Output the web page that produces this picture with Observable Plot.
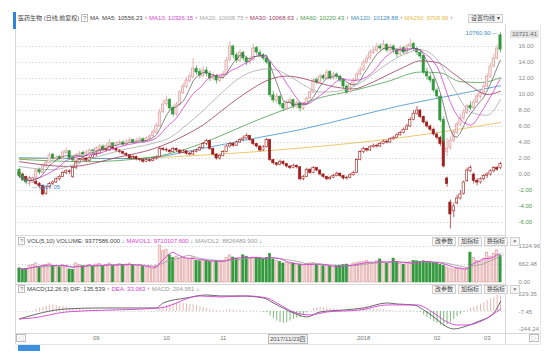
<!DOCTYPE html>
<html><head><meta charset="utf-8">
<script src="https://cdn.jsdelivr.net/npm/d3@7"></script>
<script src="https://cdn.jsdelivr.net/npm/@observablehq/plot@0.6"></script>
<style>
html,body{margin:0;padding:0;background:#fff;}
#wrap{position:relative;width:550px;height:354px;overflow:hidden;font-family:"Liberation Sans","Noto Sans CJK SC",sans-serif;}
.t{position:absolute;font-size:6px;line-height:8px;white-space:nowrap;color:#444;}
.btn{display:inline-block;border:1px solid #cfcfcf;background:#f6f6f6;padding:0 2px;margin-left:2px;font-size:6px;line-height:7px;color:#444;}
.q{display:inline-block;border:1px solid #bbb;padding:0 1px;line-height:6px;color:#777;}
.ln{position:absolute;background:#d8d8d8;}
</style></head><body><div id="wrap"></div><script>
// ---------- data (percent change vs first day) ----------
const idxOHLC = [
[0.6,-0.25,0.8,-0.5],[-0.2,-0.75,0.0,-0.9],[-0.7,-1.0,-0.5,-1.3],[-1.2,-1.1,-0.8,-1.5],[-1.0,-0.5,-0.3,-1.1],
[-0.5,0.5,0.7,-0.6],[0.6,0.25,0.8,0.0],[0.2,1.1,1.3,0.1],[1.0,1.5,1.7,0.8],[1.4,2.4,2.7,1.3],
[2.5,2.0,2.6,1.8],[1.9,2.1,2.4,1.7],[2.2,2.0,2.4,1.8],[1.9,2.75,3.0,1.8],[2.7,2.9,3.3,2.5],
[2.9,2.0,3.0,1.8],[2.1,1.75,2.3,1.5],[1.7,2.4,2.6,1.6],[2.4,2.6,2.9,2.2],[2.7,2.5,2.9,2.3],
[2.5,2.75,3.0,2.3],[2.7,3.0,3.2,2.6],[3.0,2.9,3.2,2.6],[2.9,3.25,3.5,2.7],[3.2,3.5,3.8,3.0],
[3.5,3.25,3.7,3.0],[3.2,3.6,3.9,3.1],[3.6,3.9,4.4,3.5],[3.9,3.6,4.0,3.4],[3.6,3.9,4.1,3.4],
[3.9,4.0,4.3,3.7],[4.0,3.75,4.2,3.5],[3.7,4.1,4.4,3.6],[4.1,4.25,4.6,3.9],[4.3,4.0,4.4,3.8],
[4.0,4.25,4.5,3.9],[4.2,4.4,4.7,4.1],[4.4,4.1,4.6,3.9],[4.1,4.5,4.7,4.0],[4.5,4.75,5.0,4.3],
[4.8,5.25,5.6,4.6],[5.2,6.1,6.4,5.1],[6.0,7.75,8.2,5.9],[7.8,8.75,9.3,7.6],[8.8,9.25,9.8,8.5],
[9.3,8.25,9.5,8.0],[8.3,7.5,8.6,7.2],[7.5,8.75,9.0,7.3],[8.7,10.25,10.5,8.6],[10.2,11.0,11.4,10.0],
[10.9,11.75,12.1,10.7],[11.7,12.25,12.7,11.4],[12.2,13.25,14.5,12.0],[13.2,12.75,13.6,12.4],[12.8,12.4,13.2,12.0],
[12.3,13.0,13.5,12.1],[13.0,12.6,13.4,12.2],[12.6,12.0,12.9,11.6],[12.0,12.25,12.7,11.7],[12.3,11.75,12.5,11.3],
[11.7,12.1,12.4,11.5],[12.1,12.5,12.9,11.9],[12.5,14.25,14.6,12.4],[14.3,16.0,16.6,14.1],[16.0,14.9,16.2,14.5],
[14.9,14.25,15.2,13.9],[14.2,15.25,15.6,14.0],[15.2,14.5,15.4,14.2],[14.5,14.0,14.8,13.6],[14.0,14.25,14.7,13.7],
[14.3,15.75,16.3,14.1],[15.8,15.25,16.0,14.9],[15.2,14.9,15.5,14.6],[14.9,14.5,15.1,14.2],[14.5,14.0,14.8,13.7],
[14.0,9.9,14.2,9.6],[9.9,9.25,10.4,8.9],[9.2,9.75,10.1,8.8],[9.7,8.75,9.9,8.4],[8.8,8.25,9.0,7.9],
[8.2,9.0,9.3,8.0],[9.0,9.25,9.6,8.7],[9.3,8.5,9.4,8.2],[8.5,8.9,9.2,8.2],[8.9,8.25,9.0,7.8],
[8.2,8.75,9.0,8.0],[8.7,9.5,9.7,8.6],[9.5,10.25,10.5,9.3],[10.2,11.75,12.0,10.1],[11.8,11.5,12.1,11.2],
[11.5,12.25,12.6,11.3],[12.3,12.0,12.5,11.7],[12.0,12.75,13.1,11.8],[12.8,12.0,13.0,11.8],[12.0,12.5,12.8,11.8],
[12.5,12.25,12.7,11.9],[12.2,11.75,12.4,11.5],[11.8,11.0,11.9,10.7],[11.0,10.25,11.2,10.0],[10.3,11.25,11.5,10.1],
[11.2,11.75,12.0,11.0],[11.7,12.5,12.8,11.6],[12.5,13.0,13.4,12.3],[13.0,14.0,14.3,12.9],[14.0,14.5,14.9,13.8],
[14.5,15.25,15.6,14.3],[15.2,15.5,15.9,15.0],[15.5,16.0,16.4,15.2],[16.0,15.75,16.3,15.4],[15.7,16.25,16.8,15.5],
[16.2,15.5,16.4,15.2],[15.5,16.0,16.3,15.2],[16.0,15.5,16.2,15.1],[15.5,15.0,15.7,14.6],[15.0,15.75,16.1,14.8],
[15.8,15.25,16.0,15.0],[15.2,16.0,16.3,15.0],[16.0,16.25,16.9,15.8],[16.3,15.75,16.5,15.4],[15.7,15.25,15.9,14.9],
[15.2,14.75,15.4,14.4],[14.8,12.75,14.9,12.5],[12.8,12.25,13.3,11.8],[12.2,11.75,12.6,11.4],[11.8,10.5,12.0,10.2],
[10.5,9.75,10.8,9.4],[9.7,6.75,9.9,6.5],[6.8,4.25,7.2,3.9],[2.8,3.25,4.5,2.2],[3.3,4.25,4.7,3.0],
[4.2,5.25,5.6,4.0],[5.2,6.25,6.6,5.0],[6.2,7.0,7.5,6.0],[7.0,7.75,8.2,6.8],[7.7,8.5,8.8,7.5],
[8.6,8.25,9.1,8.0],[8.3,9.0,9.4,8.1],[9.0,9.75,10.1,8.8],[9.7,10.25,10.6,9.4],[10.2,11.0,11.4,10.0],
[11.0,12.25,12.6,10.8],[12.2,13.5,13.9,12.0],[13.5,14.5,15.0,13.3],[14.5,15.75,16.2,14.3],[17.4,15.6,17.7,15.2]
];
const stkOHLC = [
[0.2,0.0,0.4,-0.3],[0.0,-0.3,0.2,-0.5],[-0.3,-0.8,-0.2,-1.0],[-0.8,-0.5,-0.3,-1.0],[-0.5,-0.9,-0.4,-1.1],
[-0.9,-1.2,-0.7,-1.4],[-1.2,-1.5,-1.0,-1.7],[-1.4,-2.5,-1.3,-2.7],[-2.4,-1.6,-1.5,-2.6],[-1.6,-1.2,-1.0,-1.8],
[-1.2,-1.0,-0.8,-1.4],[-1.0,-0.6,-0.4,-1.1],[-0.6,-0.3,-0.1,-0.8],[-0.3,0.2,0.4,-0.4],[0.2,0.4,0.6,0.0],
[0.4,0.3,0.6,0.0],[-0.3,0.8,1.0,-0.5],[0.8,1.5,1.7,0.6],[1.5,1.8,2.0,1.3],[1.8,2.0,2.2,1.6],
[2.0,1.7,2.1,1.5],[1.7,2.1,2.3,1.6],[2.1,2.4,2.6,2.0],[2.4,2.6,2.8,2.2],[2.6,3.0,3.2,2.5],
[3.0,3.2,3.5,2.9],[3.2,3.0,3.3,2.8],[3.0,3.4,3.6,2.9],[3.4,3.2,3.5,3.0],[3.2,3.0,3.3,2.8],
[3.0,2.8,3.1,2.6],[2.8,2.6,2.9,2.4],[2.6,2.4,2.7,2.2],[2.4,2.0,2.5,1.9],[2.0,2.2,2.4,1.9],
[2.2,1.9,2.3,1.7],[1.9,1.8,2.0,1.6],[1.8,1.6,1.9,1.4],[1.6,1.8,2.0,1.5],[1.8,1.7,1.9,1.5],
[1.7,1.9,2.1,1.6],[1.9,2.1,2.3,1.8],[2.2,3.2,3.5,2.1],[3.2,3.1,3.4,2.9],[3.1,3.0,3.3,2.8],
[3.0,2.8,3.1,2.6],[2.8,3.2,3.4,2.7],[3.2,3.0,3.3,2.8],[3.0,2.7,3.1,2.5],[2.7,2.9,3.1,2.6],
[2.9,2.6,3.0,2.4],[2.6,2.5,2.8,2.3],[2.5,2.8,3.0,2.4],[2.8,3.0,3.2,2.7],[3.0,3.3,3.5,2.9],
[3.3,3.8,4.0,3.2],[3.8,4.2,4.4,3.6],[4.2,3.2,4.3,3.0],[3.2,2.5,3.3,2.3],[2.5,2.0,2.6,1.8],
[2.0,2.3,2.5,1.8],[2.3,2.8,3.0,2.2],[2.8,3.5,3.7,2.7],[3.5,3.8,4.0,3.3],[3.8,3.6,3.9,3.4],
[3.6,4.0,4.2,3.5],[4.0,4.3,4.5,3.9],[4.3,4.5,4.8,4.2],[4.5,4.8,5.1,4.4],[4.8,4.3,4.9,4.1],
[4.3,3.8,4.4,3.6],[3.8,3.5,3.9,3.3],[3.5,3.0,3.6,2.8],[3.0,3.4,3.6,2.9],[3.4,4.3,4.5,3.3],
[4.3,1.8,4.4,1.6],[1.8,1.4,1.9,1.2],[1.4,1.2,1.5,1.0],[1.2,1.6,1.8,1.1],[1.6,1.3,1.7,1.1],
[1.3,1.0,1.4,0.8],[1.0,0.8,1.1,0.6],[0.8,1.1,1.3,0.7],[1.1,0.9,1.2,0.7],[0.9,-0.6,1.0,-0.8],
[-0.6,-0.3,-0.1,-0.8],[-0.3,0.6,0.8,-0.4],[0.6,0.2,0.7,0.0],[0.2,0.8,1.0,0.1],[0.8,0.5,0.9,0.3],
[0.5,0.0,0.6,-0.2],[0.0,-0.3,0.1,-0.5],[-0.3,-0.6,-0.2,-0.8],[-0.6,-0.4,-0.2,-0.7],[-0.4,-0.2,0.0,-0.5],
[-0.2,0.1,0.3,-0.3],[0.1,-0.2,0.2,-0.4],[-0.2,-0.5,-0.1,-0.7],[-0.5,-0.4,-0.2,-0.7],[-0.4,-0.1,0.1,-0.5],
[-0.1,0.2,0.4,-0.2],[0.2,1.8,2.0,0.1],[1.8,2.8,3.0,1.7],[2.8,3.2,3.4,2.6],[3.2,3.0,3.3,2.8],
[3.0,3.4,3.6,2.9],[3.4,3.6,3.8,3.3],[3.6,3.5,3.8,3.3],[3.5,3.8,4.0,3.4],[3.8,4.1,4.3,3.7],
[4.1,4.0,4.3,3.8],[4.0,4.4,4.6,3.9],[4.4,4.6,4.8,4.3],[4.6,4.9,5.1,4.5],[4.9,5.2,5.4,4.8],
[5.2,5.6,5.8,5.1],[5.6,6.0,6.3,5.5],[6.0,6.8,7.1,5.9],[6.8,7.6,8.0,6.7],[7.6,8.0,8.5,7.4],
[8.0,7.2,8.1,7.0],[7.2,6.5,7.3,6.3],[6.5,6.0,6.7,5.8],[6.0,5.6,6.2,5.4],[5.6,5.0,5.8,4.8],
[5.0,4.6,5.2,4.3],[4.6,3.8,4.8,3.5],[4.2,1.0,4.4,0.8],[-0.5,-1.2,-0.3,-1.6],[-3.5,-5.0,-3.2,-6.8],
[-4.6,-4.0,-3.6,-5.4],[-3.6,-3.0,-2.6,-3.8],[-3.0,-2.5,-2.0,-3.2],[-2.4,-1.0,-0.8,-2.6],[-0.8,0.5,0.8,-1.0],
[0.4,0.8,1.1,0.2],[0.0,-0.8,0.2,-1.2],[-0.8,-1.0,-0.5,-1.4],[-1.0,-0.6,-0.4,-1.2],[-0.6,-0.2,0.0,-0.8],
[-0.2,0.0,0.2,-0.5],[0.0,0.4,0.6,-0.2],[0.4,0.8,1.0,0.2],[0.8,0.6,1.0,0.4],[0.8,1.3,1.5,0.6]
];
const volume = [
520,480,500,610,640,700,560,620,650,700,600,
580,560,640,620,480,470,700,650,600,620,640,590,
660,680,600,640,700,620,650,680,640,660,700,620,600,640,570,560,540,500,620,1360,1150,
1200,1000,900,950,880,900,870,850,920,800,780,820,790,760,800,780,760,
800,900,1000,920,880,850,1000,950,880,920,900,880,860,900,
1050,850,800,760,700,720,680,700,660,640,620,680,700,720,660,650,
600,620,580,560,600,620,640,660,620,700,720,740,
760,800,720,700,780,850,740,700,720,880,760,680,660,700,740,800,780,760,
780,760,740,720,700,650,620,560,520,480,500,520,480,500,
1100,900,800,760,850,1100,950,1050,1180,980
];
const macdHist = [
0,0,0,0,0, 30,45,60,75,85,90,80,70,65,55, 40,30,25,30,25,20,20,15,15,10,
5,0,5,10,5,0,-5,0,5,5,0,-5,0,5,0,-5,10,
30,60,80,90,100,110,115,110,100,95,90,80,65,50,40,
30,20,15,10,10,20,30, 20,10,10,5,0,5,10,5,0,-10,-15,
-60,-100,-130,-150,-160,-150,-130,-110,-90,-80,
-50,-20,10,40,50,55,50,45,40,30,25,15,
5,0,10,20,30,35,40,45,40,35,30,25,
20,15,10,5,0,5,0,5,10,5,-5,-15,
-50,-80,-110,-140,-160,-190,-200,-180,-150,-110,
-70,-40,-10, 20,40,60,80,100,120,150,170,190,220,205
];
const difPts = [[0,-101],[14,34],[24,47],[41,47],[43,115],[50,183],[56,223],[60,210],[66,210],[73,183],[76,115],[82,-20],[86,-74],[90,-7],[97,20],[103,47],[110,115],[113,101],[118,88],[121,20],[124,-74],[128,-210],[130,-237],[133,-210],[137,-142],[142,-20],[144,135.5]];
const deaPts = [[0,-101],[4,-88],[14,-7],[42,47],[54,210],[60,196],[68,210],[74,183],[77,115],[82,-7],[87,-47],[92,-7],[102,20],[110,88],[119,88],[124,-20],[128,-142],[131,-183],[134,-183],[139,-115],[144,33]];
const ma20Pts = [[0,1.0],[10,0.6],[20,1.8],[30,3.0],[40,3.9],[45,4.6],[50,6.2],[55,8.0],[60,10.0],[65,11.8],[70,12.9],[75,13.2],[80,12.5],[85,11.2],[90,10.3],[95,10.4],[100,11.0],[105,12.3],[110,13.8],[115,15.0],[120,15.6],[125,14.4],[130,10.8],[135,7.8],[140,7.4],[144,9.4]];
const ma30Pts = [[0,1.6],[15,1.0],[30,2.2],[40,3.2],[50,5.0],[55,6.2],[60,7.8],[65,9.4],[70,10.8],[75,11.9],[80,12.3],[85,12.0],[90,11.4],[95,10.9],[100,10.7],[105,11.4],[110,12.4],[115,13.4],[120,14.2],[125,14.0],[130,12.6],[135,11.1],[140,10.0],[144,10.4]];
const ma60Pts = [[0,1.9],[20,1.6],[40,2.2],[50,3.2],[60,4.8],[70,6.6],[80,8.2],[90,9.6],[100,10.5],[110,11.6],[120,12.8],[126,12.7],[132,11.6],[138,11.5],[144,12.1]];
const ma120Pts = [[0,2.1],[20,2.0],[36,2.0],[54,3.2],[70,4.5],[84,5.6],[100,7.2],[114,8.6],[126,9.6],[144,11.1]];
const ma250Pts = [[0,2.0],[30,2.0],[54,2.4],[84,3.3],[114,4.6],[144,6.5]];
const pctTicks = [-6,-4,-2,0,2,4,6,8,10,12,14,16];
const volTicks = [0, 662.48, 1324.96];
const volTickLabels = ["0.00","662.48","1324.96"];
const macdTicks = [-244.24, -7.45, 229.35];
const monthDays = [23,44,61,103,125,140];
const monthLabels = ["09","10","11","2018","02","03"];
const highLabel = "10760.90";
const lowLabel = "9017.05";
const lastLabel = "10721.41";

// ---------- rows ----------
const idx = idxOHLC.map((d,i)=>({i,o:d[0],c:d[1],h:d[2],l:d[3],up:d[1]>=d[0]}));
const stk = stkOHLC.map((d,i)=>({i,o:d[0],c:d[1],h:d[2],l:d[3],up:d[1]>=d[0]}));
const vol = volume.map((v,i)=>({i,v,up:idx[i].up}));
const hist = macdHist.map((v,i)=>({i,v}));
const pts = a => a.map(([i,v])=>({i,v}));
const lowRow = idx.reduce((a,b)=>b.l<a.l?b:a);

const C = {upFill:"#f8e2e2", upStroke:"#d99595", down:"#33993d", stk:"#a01d1d",
  ma5:"#555", ma10:"#d23fd2", ma20:"#a8a8a8", ma30:"#9b3a5c", ma60:"#4e9e4e", ma120:"#3f90c6", ma250:"#e8ba48",
  grid:"#d0d0d0", lab:"#8a8a8a", neg:"#4a9a4a"};
const W = 550, hw = 0.34;
const X = {domain:[0,144], range:[19,500], axis:null};

const wrap = document.getElementById("wrap");
function put(el,l,t){el.style.position="absolute";el.style.left=l+"px";el.style.top=t+"px";wrap.appendChild(el);return el;}
function txt(html,l,t,style){const d=document.createElement("div");d.className="t";d.innerHTML=html;if(style)d.style.cssText+=style;return put(d,l,t);}
function line(l,t,w,h,c){const d=document.createElement("div");d.className="ln";d.style.width=w+"px";d.style.height=h+"px";if(c)d.style.background=c;return put(d,l,t);}

function candles(data, upFill, upStroke, downFill, downStroke){
  return [
    Plot.ruleX(data,{x:"i",y1:"l",y2:"h",stroke:d=>d.up?upStroke:downStroke,strokeWidth:0.7}),
    Plot.rect(data,{x1:d=>d.i-hw,x2:d=>d.i+hw,y1:d=>Math.min(d.o,d.c),y2:d=>Math.max(d.o,d.c),
      fill:d=>d.up?upFill:downFill, stroke:d=>d.up?upStroke:downStroke, strokeWidth:0.6})
  ];
}

// ---------- main panel ----------
const maLine = (a,c,w)=>Plot.line(pts(a),{x:"i",y:"v",stroke:c,strokeWidth:w||0.8,curve:"monotone-x"});
const main = Plot.plot({
  width:W, height:210, marginLeft:15, marginRight:45, marginTop:0, marginBottom:0,
  x:X, y:{domain:[-7,18], range:[206,6], axis:null},
  color:{type:"identity"},
  style:{fontFamily:"Liberation Sans, sans-serif", fontSize:"6px", background:"transparent"},
  marks:[
    Plot.ruleY(pctTicks,{stroke:C.grid,strokeDasharray:"1.2,2.2"}),
    maLine(ma250Pts,C.ma250), maLine(ma120Pts,C.ma120), maLine(ma60Pts,C.ma60),
    ...candles(stk,"#ffffff",C.stk,C.stk,C.stk),
    ...candles(idx,C.upFill,C.upStroke,C.down,C.down),
    maLine(ma30Pts,C.ma30), maLine(ma20Pts,C.ma20),
    Plot.line(idx, Plot.windowY({k:10,anchor:"end"},{x:"i",y:"c",stroke:C.ma10,strokeWidth:0.8})),
    Plot.line(idx, Plot.windowY({k:5,anchor:"end"},{x:"i",y:"c",stroke:C.ma5,strokeWidth:0.7})),
    Plot.text(pctTicks.filter(d=>d>=0),{y:d=>d,text:d=>d.toFixed(2),frameAnchor:"right",dx:13,textAnchor:"start",fill:C.lab}),
    Plot.text(pctTicks.filter(d=>d<0),{y:d=>d,text:d=>d.toFixed(2),frameAnchor:"right",dx:13,textAnchor:"start",fill:C.neg}),
    Plot.text([idx[idx.length-1]],{x:"i",y:"h",text:()=>highLabel+" ─",dx:-4,textAnchor:"end",fill:"#3f8cc4"}),
    Plot.text([lowRow],{x:"i",y:"l",text:()=>"─ "+lowLabel,dx:3,dy:1,textAnchor:"start",fill:"#3f8cc4"})
  ]
});
put(main,0,24);

// ---------- volume panel ----------
const volP = Plot.plot({
  width:W, height:48, marginLeft:15, marginRight:45, marginTop:0, marginBottom:0,
  x:X, y:{domain:[0,1324.96], range:[46,10], axis:null},
  style:{fontFamily:"Liberation Sans, sans-serif", fontSize:"6px", background:"transparent"},
  marks:[
    Plot.ruleY([1324.96,662.48],{stroke:C.grid,strokeDasharray:"1.2,2.2"}),
    Plot.rect(vol,{x1:d=>d.i-hw,x2:d=>d.i+hw,y1:0,y2:"v",fill:d=>d.up?C.upFill:C.down,stroke:d=>d.up?C.upStroke:C.down,strokeWidth:0.6}),
    Plot.line(vol, Plot.windowY({k:10,anchor:"end"},{x:"i",y:"v",stroke:"#9a9a9a",strokeWidth:0.8})),
    Plot.line(vol, Plot.windowY({k:5,anchor:"end"},{x:"i",y:"v",stroke:C.ma10,strokeWidth:0.9})),
    Plot.text(volTicks,{y:d=>d,text:(d,i)=>volTickLabels[i],frameAnchor:"right",dx:13,textAnchor:"start",fill:C.lab})
  ]
});
put(volP,0,236);

// ---------- MACD panel + date axis ----------
const macdP = Plot.plot({
  width:W, height:70, marginLeft:15, marginRight:45, marginTop:0, marginBottom:0,
  x:X, y:{domain:[-244.24,229.35], range:[45,10], axis:null},
  style:{fontFamily:"Liberation Sans, sans-serif", fontSize:"6px", background:"transparent"},
  marks:[
    Plot.ruleY([0],{stroke:C.grid,strokeDasharray:"1.2,2.2"}),
    Plot.ruleX(hist,{x:"i",y1:0,y2:"v",stroke:d=>d.v>=0?"#e3a5a5":"#5aa85a",strokeWidth:0.8}),
    Plot.line(pts(difPts),{x:"i",y:"v",stroke:"#444",strokeWidth:0.8,curve:"monotone-x"}),
    Plot.line(pts(deaPts),{x:"i",y:"v",stroke:C.ma10,strokeWidth:0.9,curve:"monotone-x"}),
    Plot.text(macdTicks,{y:d=>d,text:d=>d.toFixed(2),frameAnchor:"right",dx:13,textAnchor:"start",fill:C.lab}),
    Plot.text(monthDays,{x:d=>d,text:(d,i)=>monthLabels[i],frameAnchor:"bottom",dy:-15,fill:"#777"})
  ]
});
put(macdP,0,284);

// ---------- frame lines ----------
line(15,24,1,321); line(505,24,1,321); line(540,24,1,321,"#e6e6e6");
line(15,235,490,1); line(15,284,490,1); line(15,333,525,1); line(15,344,525,1,"#e6e6e6");
const blue=document.createElement("div");blue.style.cssText="width:3px;height:17px;background:#2f86d9;";put(blue,13,12);
const blue2=document.createElement("div");blue2.style.cssText="width:22px;height:6px;background:#3a8fde;";put(blue2,18,345);

// ---------- texts ----------
const up = '<span style="color:#c0392b">↑</span>', dn = '<span style="color:#2f9a3b">↓</span>';
txt('医药生物 (日线,前复权) <span class="q">?</span> MA &nbsp;MA5: 10556.23 '+up+
  ' <span style="color:#d23fd2">MA10: 10326.15</span> '+up+
  ' <span style="color:#a8a8a8">MA20: 10008.75</span> '+up+
  ' <span style="color:#9b3a5c">MA30: 10068.63</span> '+dn+
  ' <span style="color:#4e9e4e">MA60: 10220.43</span> '+up+
  ' <span style="color:#3f90c6">MA120: 10128.88</span> '+up+
  ' <span style="color:#e8ba48">MA250: 9708.96</span> '+up, 18, 14);
txt('<span class="btn">设置均线 ▾</span>', 466, 14);
txt(lastLabel, 510, 30, "background:#e4e4e4;padding:0 2px;color:#666;");
txt('<span class="q">?</span> VOL(5,10) VOLUME: 9377586.000 '+dn+' <span style="color:#d23fd2">MAVOL1: 9710107.600</span> '+dn+' <span style="color:#9a9a9a">MAVOL2: 8826489.900</span> '+dn, 18, 237);
txt('<span class="btn">改参数</span><span class="btn">加指标</span><span class="btn">换指标</span><span class="btn">×</span>', 430, 237);
txt('<span class="q">?</span> MACD(12,26,9) DIF: 135.539 '+up+' <span style="color:#d23fd2">DEA: 33.063</span> '+up+' <span style="color:#9a9a9a">MACD: 204.951</span> '+dn, 18, 285);
txt('<span class="btn">改参数</span><span class="btn">加指标</span><span class="btn">换指标</span><span class="btn">×</span>', 430, 285);
txt('2017/11/23四', 268, 334, "border:1px solid #bbb;background:#f0f0f0;padding:0 1px;color:#555;");
txt('<span class="q">◁</span>', 16, 334);
txt('<span class="q">▷</span>', 529, 334);
</script></body></html>
